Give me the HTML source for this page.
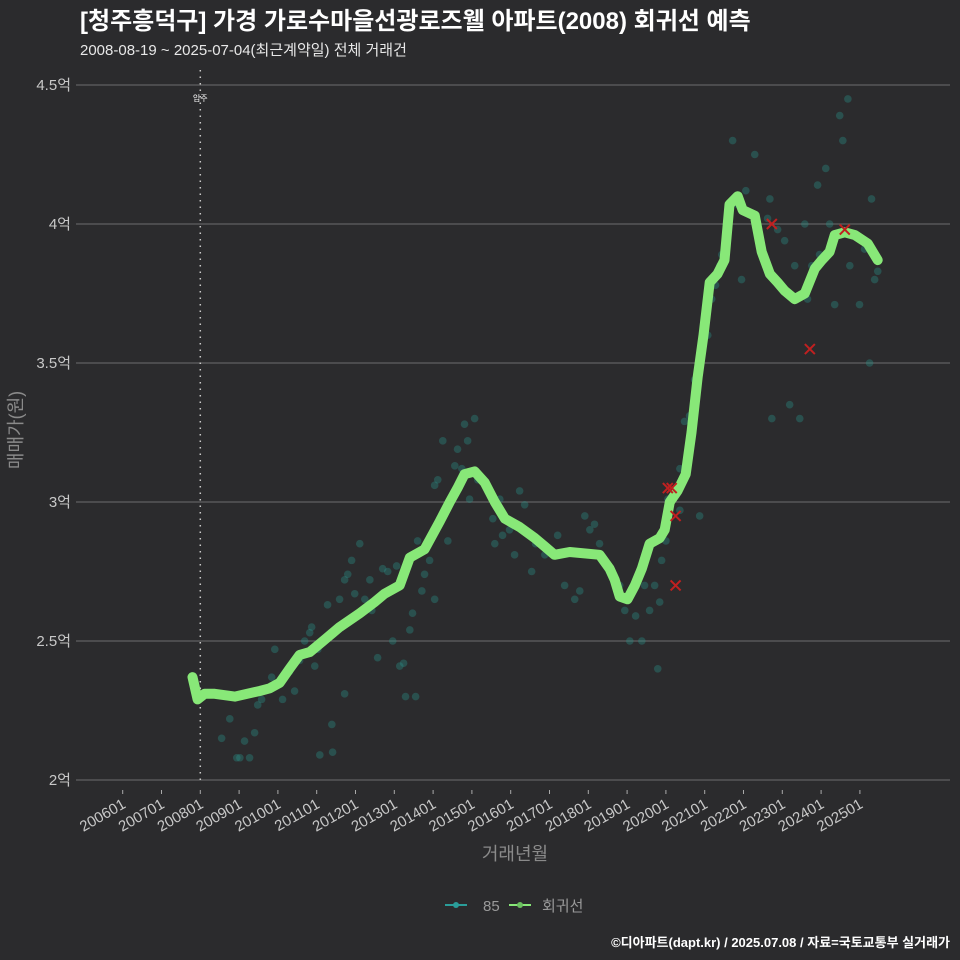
<!DOCTYPE html>
<html><head><meta charset="utf-8"><style>
body{margin:0;background:#2b2b2d}
svg{display:block;font-family:"Liberation Sans","Noto Sans CJK KR",sans-serif}
</style></head><body>
<svg id="chart" width="960" height="960">
<rect width="960" height="960" fill="#2b2b2d"/>
<text x="80" y="29" fill="#ffffff" font-size="24" font-weight="bold">[청주흥덕구] 가경 가로수마을선광로즈웰 아파트(2008) 회귀선 예측</text>
<text x="80" y="55" fill="#e8e8e8" font-size="15">2008-08-19 ~ 2025-07-04(최근계약일) 전체 거래건</text>
<g id="grid"></g><g id="pts"></g><g id="line"></g><g id="marks"></g><g id="axes"></g>
<text transform="translate(22,430) rotate(-90)" text-anchor="middle" fill="#8a8a8a" font-size="18">매매가(원)</text>
<text x="515" y="860" text-anchor="middle" fill="#8a8a8a" font-size="18">거래년월</text>
<g>
<g><line x1="445" y1="905" x2="467" y2="905" stroke="#2a9d99" stroke-width="2"/><circle cx="456" cy="905" r="3" fill="#2a9d99"/><text x="483" y="911" fill="#9a9a9a" font-size="15">85</text></g>
<g><line x1="509" y1="905" x2="531" y2="905" stroke="#88e878" stroke-width="2"/><circle cx="520" cy="905" r="3" fill="#6cc060"/><text x="542" y="911" fill="#9a9a9a" font-size="15">회귀선</text></g>
</g>
<text x="950" y="947" text-anchor="end" fill="#ffffff" font-size="13" font-weight="bold">©디아파트(dapt.kr) / 2025.07.08 / 자료=국토교통부 실거래가</text>
</svg>
<script>
const yTicks=[2,2.5,3,3.5,4,4.5];
const yTickLabels=["2억","2.5억","3억","3.5억","4억","4.5억"];
const xTicks=[2006,2007,2008,2009,2010,2011,2012,2013,2014,2015,2016,2017,2018,2019,2020,2021,2022,2023,2024,2025];
const xTickLabels=["200601","200701","200801","200901","201001","201101","201201","201301","201401","201501","201601","201701","201801","201901","202001","202101","202201","202301","202401","202501"];
const moveIn=2008;
const ptDates=[2008.55,2008.76,2008.94,2009.02,2009.14,2009.27,2009.40,2009.48,2009.58,2009.84,2009.92,2010.12,2010.30,2010.43,2010.56,2010.69,2010.82,2010.87,2010.95,2011.03,2011.08,2011.28,2011.39,2011.41,2011.46,2011.59,2011.72,2011.72,2011.80,2011.90,2011.98,2012.11,2012.24,2012.37,2012.42,2012.57,2012.70,2012.83,2012.96,2013.06,2013.14,2013.24,2013.29,2013.40,2013.47,2013.55,2013.60,2013.71,2013.78,2013.91,2014.04,2014.04,2014.12,2014.17,2014.25,2014.38,2014.48,2014.56,2014.63,2014.74,2014.81,2014.89,2014.94,2015.07,2015.15,2015.41,2015.54,2015.59,2015.72,2015.79,2015.97,2016.10,2016.23,2016.36,2016.54,2016.64,2016.88,2017.21,2017.39,2017.65,2017.78,2017.91,2018.04,2018.16,2018.29,2018.55,2018.81,2018.94,2019.07,2019.22,2019.38,2019.45,2019.58,2019.71,2019.79,2019.84,2019.89,2020.00,2020.05,2020.36,2020.87,2020.36,2020.48,2020.61,2020.74,2020.87,2021.08,2021.18,2021.28,2021.39,2021.44,2021.59,2021.72,2021.85,2021.95,2022.06,2022.29,2022.42,2022.62,2022.68,2022.73,2022.88,2023.06,2023.19,2023.32,2023.45,2023.58,2023.65,2023.76,2023.91,2023.96,2024.12,2024.22,2024.35,2024.48,2024.56,2024.69,2024.74,2024.89,2024.99,2025.12,2025.25,2025.30,2025.38,2025.46];
const ptValues=[2.15,2.22,2.08,2.08,2.14,2.08,2.17,2.27,2.29,2.37,2.47,2.29,2.39,2.32,2.43,2.50,2.53,2.55,2.41,2.47,2.09,2.63,2.20,2.10,2.54,2.65,2.31,2.72,2.74,2.79,2.67,2.85,2.65,2.72,2.61,2.44,2.76,2.75,2.50,2.77,2.41,2.42,2.30,2.54,2.60,2.30,2.86,2.68,2.74,2.79,2.65,3.06,3.08,2.94,3.22,2.86,3.01,3.13,3.19,3.12,3.28,3.22,3.01,3.30,3.08,3.04,2.94,2.85,3.01,2.88,2.90,2.81,3.04,2.99,2.75,2.85,2.81,2.88,2.70,2.65,2.68,2.95,2.90,2.92,2.85,2.75,2.70,2.61,2.50,2.59,2.50,2.70,2.61,2.70,2.40,2.64,2.79,2.86,3.01,2.97,2.95,3.12,3.29,3.31,3.44,3.51,3.60,3.73,3.78,3.85,3.89,3.98,4.30,4.07,3.80,4.12,4.25,3.94,4.02,4.09,3.30,3.98,3.94,3.35,3.85,3.30,4.00,3.73,3.85,4.14,3.89,4.20,4.00,3.71,4.39,4.30,4.45,3.85,3.96,3.71,3.91,3.50,4.09,3.80,3.83];
const regDates=[2007.80,2007.93,2008.11,2008.37,2008.89,2009.53,2009.79,2010.05,2010.30,2010.56,2010.82,2011.08,2011.59,2012.11,2012.49,2012.75,2013.14,2013.40,2013.78,2014.17,2014.43,2014.63,2014.81,2015.07,2015.33,2015.59,2015.85,2016.23,2016.62,2016.88,2017.13,2017.52,2018.29,2018.55,2018.68,2018.81,2019.01,2019.20,2019.38,2019.58,2019.84,2019.97,2020.10,2020.30,2020.51,2020.66,2020.82,2020.97,2021.13,2021.33,2021.51,2021.64,2021.85,2021.98,2022.29,2022.47,2022.68,2022.88,2023.06,2023.32,2023.58,2023.84,2024.02,2024.22,2024.35,2024.61,2024.87,2025.20,2025.46];
const regValues=[2.37,2.29,2.31,2.31,2.30,2.32,2.33,2.35,2.40,2.45,2.46,2.49,2.55,2.60,2.64,2.67,2.70,2.80,2.83,2.93,3.00,3.05,3.10,3.11,3.07,3.00,2.94,2.91,2.87,2.84,2.81,2.82,2.81,2.76,2.72,2.66,2.65,2.70,2.76,2.85,2.87,2.90,3.00,3.04,3.10,3.25,3.45,3.60,3.79,3.82,3.87,4.07,4.10,4.05,4.03,3.90,3.82,3.79,3.76,3.73,3.75,3.84,3.87,3.90,3.96,3.97,3.96,3.93,3.87];
const anomDates=[2020.05,2020.15,2020.25,2020.25,2022.73,2023.71,2024.61];
const anomValues=[3.05,3.05,2.95,2.70,4.00,3.55,3.98];

const NS="http://www.w3.org/2000/svg";
const X=d=>122.7+(d-2006)*38.8;
const Y=v=>780-(v-2)*278;
function mk(tag,attrs,parent){const e=document.createElementNS(NS,tag);for(const k in attrs)e.setAttribute(k,attrs[k]);document.getElementById(parent).appendChild(e);return e;}

yTicks.forEach((t,i)=>{
  const g=mk('line',{x1:76,x2:950,y1:Y(t),y2:Y(t),stroke:'#6e6e6e','stroke-width':1},'grid');
  
  
  const tx=mk('text',{x:71,y:Y(t)+5,'text-anchor':'end',fill:'#c8c8c8','font-size':15},'axes');
  tx.textContent=yTickLabels[i];
  
  
});
xTicks.forEach((t,i)=>{
  const tk=mk('line',{x1:X(t),x2:X(t),y1:790,y2:794,stroke:'#aaaaaa','stroke-width':1},'axes');
  
  
  const tx=mk('text',{transform:`translate(${X(t)+4},${807}) rotate(-30)`,'text-anchor':'end',fill:'#c8c8c8','font-size':15},'axes');
  tx.textContent=xTickLabels[i];
  
  
});
const vl=mk('line',{x1:X(moveIn),x2:X(moveIn),y1:70,y2:780,stroke:'#cccccc','stroke-width':1.5,'stroke-dasharray':'1.5 5'},'grid');


const vt=mk('text',{x:X(moveIn),y:101,'text-anchor':'middle',fill:'#ffffff','font-size':8},'grid');
vt.textContent='입주';



ptDates.forEach((d,i)=>{
  const c=mk('circle',{cx:X(d),cy:Y(ptValues[i]),r:3.8,fill:'#2a8f86','fill-opacity':0.38},'pts');
  
  
});
const path=mk('path',{d:regDates.map((d,i)=>(i?'L':'M')+X(d).toFixed(1)+','+Y(regValues[i]).toFixed(1)).join(''),fill:'none',stroke:'#88e878','stroke-width':10,'stroke-linejoin':'round','stroke-linecap':'round'},'line');


anomDates.forEach((d,i)=>{
  const x=X(d),y=Y(anomValues[i]);
  const g=mk('path',{d:`M${x-5},${y-5}L${x+5},${y+5}M${x-5},${y+5}L${x+5},${y-5}`,stroke:'#c02020','stroke-width':2},'marks');
  
  
});
</script>
</body></html>
